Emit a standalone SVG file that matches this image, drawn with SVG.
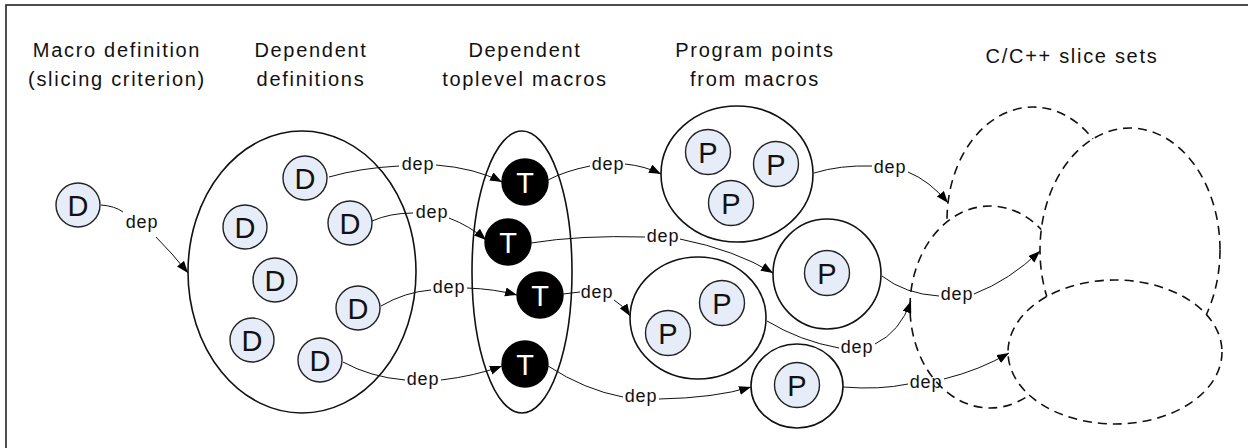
<svg xmlns="http://www.w3.org/2000/svg" width="1248" height="448" viewBox="0 0 1248 448">
  <style>
    .title { font-family: "Liberation Sans", Arial, sans-serif; font-size: 20px; letter-spacing: 1.7px; fill: #111; text-anchor: middle; }
    .lbl { font-family: "Liberation Sans", Arial, sans-serif; font-size: 18px; letter-spacing: 0.8px; fill: #111; text-anchor: middle; }
    .glyph { font-family: "Liberation Sans", Arial, sans-serif; font-size: 29px; text-anchor: middle; }
    .set { fill: #fff; stroke: #111; stroke-width: 1.6; }
    .slice { fill: #fff; stroke: #111; stroke-width: 1.6; stroke-dasharray: 9 6; }
    .dnode circle { fill: #e6edf8; stroke: #222; stroke-width: 1.4; }
    .dnode text { fill: #111; }
    .tnode circle { fill: #000; stroke: #000; stroke-width: 1.4; }
    .tnode text { fill: #fff; }
    .conn path { fill: none; stroke: #111; stroke-width: 1; }
    .conn path.tip { marker-end: url(#arrow); }
  </style>
  <defs>
    <marker id="arrow" markerUnits="userSpaceOnUse" markerWidth="13" markerHeight="10" refX="12" refY="4.5" orient="auto">
      <path d="M0,0 L12,4.5 L0,9 z" fill="#000"/>
    </marker>
  </defs>

  <!-- frame -->
  <rect x="6" y="5" width="1300" height="500" fill="#fff" stroke="#222" stroke-width="1.6"/>

  <!-- column headings -->
  <g id="headings">
    <text class="title" x="117" y="57">Macro definition</text>
    <text class="title" x="117" y="86">(slicing criterion)</text>
    <text class="title" x="311" y="57">Dependent</text>
    <text class="title" x="311" y="86">definitions</text>
    <text class="title" x="525" y="57">Dependent</text>
    <text class="title" x="525" y="86">toplevel macros</text>
    <text class="title" x="755" y="57">Program points</text>
    <text class="title" x="755" y="86">from macros</text>
    <text class="title" x="1072" y="63">C/C++ slice sets</text>
  </g>

  <!-- slicing criterion -->
  <g id="criterion" class="dnode">
    <circle cx="78" cy="205" r="22"/>
    <text class="glyph" x="78" y="215.5">D</text>
  </g>

  <!-- dependent definitions -->
  <g id="definitions">
    <ellipse class="set" cx="302" cy="272" rx="114" ry="141"/>
    <g class="dnode">
      <circle cx="305" cy="178" r="22"/><text class="glyph" x="305" y="188.5">D</text>
      <circle cx="245" cy="227" r="22"/><text class="glyph" x="245" y="237.5">D</text>
      <circle cx="350" cy="223" r="22"/><text class="glyph" x="350" y="233.5">D</text>
      <circle cx="275" cy="280" r="22"/><text class="glyph" x="275" y="290.5">D</text>
      <circle cx="358" cy="308" r="22"/><text class="glyph" x="358" y="318.5">D</text>
      <circle cx="252" cy="340" r="22"/><text class="glyph" x="252" y="350.5">D</text>
      <circle cx="320" cy="360" r="22"/><text class="glyph" x="320" y="370.5">D</text>
    </g>
  </g>

  <!-- dependent toplevel macros -->
  <g id="toplevel">
    <ellipse class="set" cx="522" cy="272" rx="50" ry="141"/>
    <g class="tnode">
      <circle cx="525" cy="182" r="23"/><text class="glyph" x="525" y="192.5">T</text>
      <circle cx="508" cy="242" r="23"/><text class="glyph" x="508" y="252.5">T</text>
      <circle cx="540" cy="295" r="23"/><text class="glyph" x="540" y="305.5">T</text>
      <circle cx="525" cy="364" r="23"/><text class="glyph" x="525" y="374.5">T</text>
    </g>
  </g>

  <!-- program points -->
  <g id="points-a">
    <ellipse class="set" cx="737" cy="174" rx="76" ry="68"/>
    <g class="dnode">
      <circle cx="708" cy="152" r="22.5"/><text class="glyph" x="708" y="162.5">P</text>
      <circle cx="776" cy="164" r="22.5"/><text class="glyph" x="776" y="174.5">P</text>
      <circle cx="731" cy="203" r="22.5"/><text class="glyph" x="731" y="213.5">P</text>
    </g>
  </g>
  <g id="points-b">
    <ellipse class="set" cx="827" cy="274" rx="54" ry="55"/>
    <g class="dnode">
      <circle cx="827" cy="273" r="22.5"/><text class="glyph" x="827" y="283.5">P</text>
    </g>
  </g>
  <g id="points-c">
    <ellipse class="set" cx="698" cy="318" rx="68" ry="61"/>
    <g class="dnode">
      <circle cx="722" cy="303" r="22.5"/><text class="glyph" x="722" y="313.5">P</text>
      <circle cx="668" cy="333" r="22.5"/><text class="glyph" x="668" y="343.5">P</text>
    </g>
  </g>
  <g id="points-d">
    <ellipse class="set" cx="797" cy="386" rx="46" ry="42"/>
    <g class="dnode">
      <circle cx="797" cy="385" r="22.5"/><text class="glyph" x="797" y="395.5">P</text>
    </g>
  </g>

  <!-- slice sets, back to front -->
  <g id="slice-1"><ellipse class="slice" cx="1033" cy="220" rx="86" ry="113"/></g>
  <g id="slice-2"><ellipse class="slice" cx="990" cy="307" rx="80" ry="101"/></g>
  <g id="slice-3"><ellipse class="slice" cx="1130" cy="250" rx="90" ry="122"/></g>
  <g id="slice-4"><ellipse class="slice" cx="1115" cy="352" rx="107" ry="72"/></g>

  <!-- dependency connectors -->
  <g id="connectors" class="conn">
    <path d="M101,205 Q115,206 123,212"/>
    <path class="tip" d="M156,237 Q172,253 188,273"/>
    <text class="lbl" x="142" y="228">dep</text>

    <path d="M329,177 Q360,168 399,166"/>
    <path class="tip" d="M436,165 Q475,168 502,182"/>
    <text class="lbl" x="418" y="170">dep</text>

    <path d="M372,221 Q390,213 413,213"/>
    <path class="tip" d="M449,218 Q470,226 486,240"/>
    <text class="lbl" x="432" y="218">dep</text>

    <path d="M381,306 Q405,292 431,290"/>
    <path class="tip" d="M467,288 Q495,289 517,295"/>
    <text class="lbl" x="449" y="293">dep</text>

    <path d="M343,362 Q370,377 405,380"/>
    <path class="tip" d="M441,380 Q475,376 502,366"/>
    <text class="lbl" x="423" y="385">dep</text>

    <path d="M548,180 Q565,171 590,166"/>
    <path class="tip" d="M625,164 Q645,166 661,174"/>
    <text class="lbl" x="608" y="170">dep</text>

    <path d="M531,243 Q580,235 645,237"/>
    <path class="tip" d="M680,239 Q735,250 773,273"/>
    <text class="lbl" x="663" y="242">dep</text>

    <path d="M563,294 L580,292"/>
    <path class="tip" d="M614,300 Q623,305 630,316"/>
    <text class="lbl" x="597" y="298">dep</text>

    <path d="M548,366 Q585,390 623,397"/>
    <path class="tip" d="M659,399 Q715,398 751,387"/>
    <text class="lbl" x="641" y="402">dep</text>

    <path d="M814,173 Q840,165 872,166"/>
    <path class="tip" d="M908,172 Q930,181 948,203"/>
    <text class="lbl" x="890" y="173">dep</text>

    <path d="M882,276 Q905,294 939,296"/>
    <path class="tip" d="M974,294 Q1010,280 1040,251"/>
    <text class="lbl" x="957" y="300">dep</text>

    <path d="M767,321 Q800,341 839,348"/>
    <path class="tip" d="M875,344 Q900,332 911,301"/>
    <text class="lbl" x="857" y="353">dep</text>

    <path d="M843,387 Q880,390 908,384"/>
    <path class="tip" d="M944,379 Q980,370 1009,353"/>
    <text class="lbl" x="926" y="388">dep</text>
  </g>
</svg>
